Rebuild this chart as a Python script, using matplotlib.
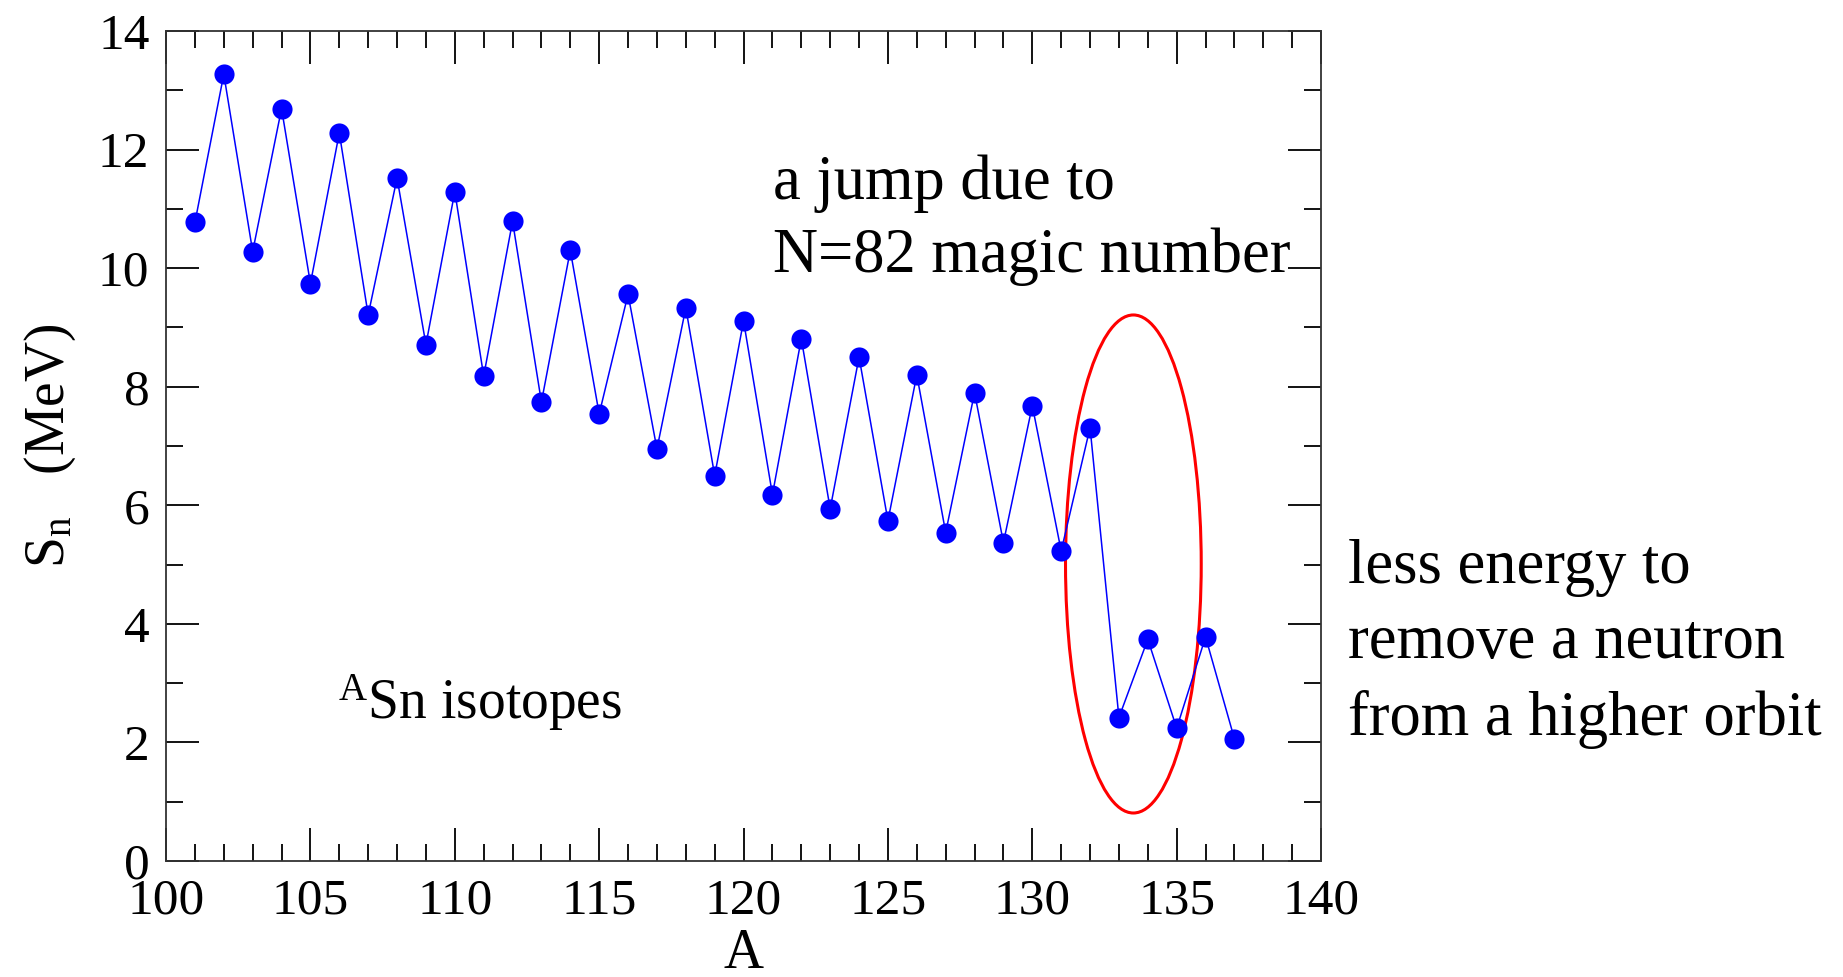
import numpy as np
import matplotlib.pyplot as plt
from matplotlib.patches import Ellipse

plt.rcParams['font.family'] = ['Liberation Serif', 'DejaVu Serif']
plt.rcParams['mathtext.fontset'] = 'custom'
plt.rcParams['mathtext.rm'] = 'Liberation Serif'
plt.rcParams['mathtext.it'] = 'Liberation Serif:italic'

# Neutron separation energies of Sn isotopes
mass_number = np.arange(101, 138)
sn_energy = [10.77, 13.27, 10.28, 12.69, 9.74, 12.28, 9.21, 11.52, 8.71, 11.29,
             8.18, 10.79, 7.74, 10.30, 7.54, 9.56, 6.95, 9.33, 6.50, 9.11,
             6.18, 8.81, 5.94, 8.50, 5.74, 8.20, 5.54, 7.90, 5.37, 7.68,
             5.23, 7.31, 2.42, 3.74, 2.24, 3.78, 2.06]

x_ticks = [100, 105, 110, 115, 120, 125, 130, 135, 140]
y_ticks = [0, 2, 4, 6, 8, 10, 12, 14]

fig = plt.figure(figsize=(18.43, 9.77), dpi=100)
ax = fig.add_axes([0.0901, 0.1187, 0.6267, 0.8496])

ax.plot(mass_number, sn_energy, color='blue', lw=1.1, marker='o',
        markersize=14.5, markeredgewidth=0)

# circle around the N=82 shell closure region
ax.add_patch(Ellipse((133.5, 5.01), 4.7, 8.4, fill=False,
                     edgecolor='red', lw=2.2))

ax.set_xlim(100, 140)
ax.set_ylim(0, 14)
ax.set_xticks(x_ticks)
ax.set_yticks(y_ticks)
ax.set_xticks(np.arange(100, 141, 1), minor=True)
ax.set_yticks(np.arange(0, 15, 1), minor=True)
ax.tick_params(which='both', direction='in', top=True, right=True, width=1.3)
ax.tick_params(which='major', length=24, labelsize=37, pad=12)
ax.tick_params(which='minor', length=12)
for sp in ax.spines.values():
    sp.set_linewidth(1.3)
    sp.set_color('#333333')

ax.set_xlabel('A', fontsize=40, labelpad=3)
ax.set_ylabel(r'S$_\mathrm{n}$   (MeV)', fontsize=40, labelpad=14)

ax.text(105.94, 2.4, r'$^\mathrm{A}$Sn isotopes', fontsize=40, va='baseline')

fig.text(0.4195, 0.842, 'a jump due to\nN=82 magic number', fontsize=45,
         va='top', linespacing=1.32)
fig.text(0.7314, 0.341, 'less energy to\nremove a neutron\nfrom a higher orbit',
         fontsize=45, va='center', linespacing=1.4)

fig.savefig('out.png', dpi=100)
